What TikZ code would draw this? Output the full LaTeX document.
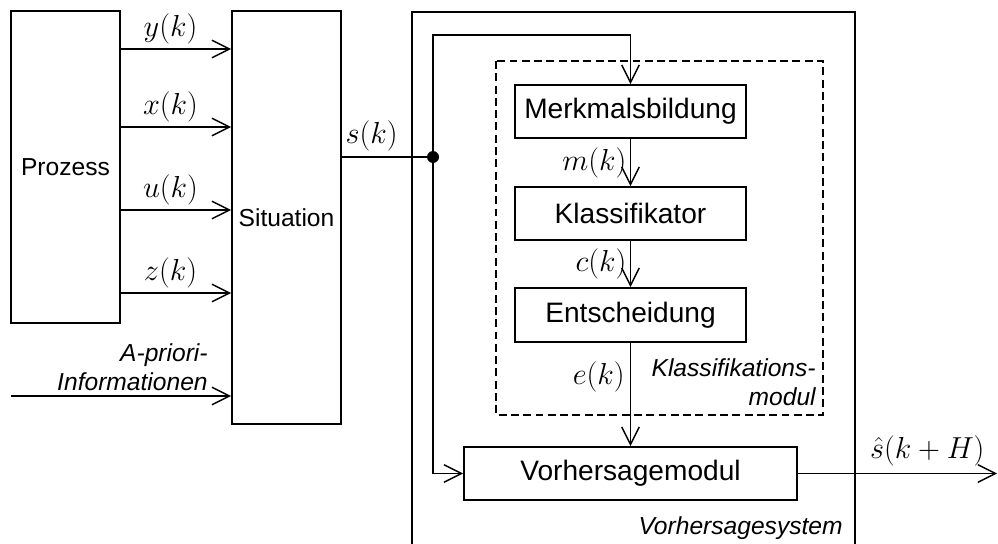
\documentclass[tikz,border=0pt]{standalone}
\usepackage{fontspec}
\setmainfont{Liberation Sans}
\usetikzlibrary{arrows.meta}

\tikzset{
    block/.style={draw, line width=1.1pt, inner sep=0pt, font=\fontsize{16}{19}\selectfont},
    arr/.style={line width=0.8pt, -{Straight Barb[length=10pt,width=10pt,line width=0.8pt]}},
    sig/.style={font=\fontsize{18}{21}\selectfont},
    note/.style={font=\fontsize{14}{16.5}\selectfont\itshape, align=right, inner sep=0pt},
}

\begin{document}
\begin{tikzpicture}[x=0.02cm, y=-0.02cm]

    \useasboundingbox (0,0) rectangle (998,544);

    % Prediction system frame (open at the bottom)
    \draw[line width=1.1pt] (412,544) -- (412,12) -- (855,12) -- (855,544);
    \node[note, anchor=east] (systext) at (843,528) {Vorhersagesystem};

    % Classification module frame
    \draw[line width=0.9pt, dash pattern=on 4.5pt off 2.5pt] (496,61) rectangle (823,415);
    \node[note, anchor=east] (klasstext) at (816,382) {Klassifikations-\\modul};

    % Blocks
    \node[block, minimum width=2.18cm, minimum height=6.24cm, font=\fontsize{14}{17}\selectfont]
        (prozess) at (65.5,167) {Prozess};
    \node[block, minimum width=2.18cm, minimum height=8.26cm, font=\fontsize{14}{17}\selectfont]
        (situation) at (286.5,217.5) {Situation};
    \node[block, minimum width=4.62cm, minimum height=1.06cm] (merkmal) at (630.5,111.5) {Merkmalsbildung};
    \node[block, minimum width=4.62cm, minimum height=1.06cm] (klassi) at (630.5,213.5) {Klassifikator};
    \node[block, minimum width=4.62cm, minimum height=1.08cm] (entsch) at (630.5,315) {Entscheidung};
    \node[block, minimum width=6.66cm, minimum height=1.06cm] (vorher) at (630.5,473.5) {Vorhersagemodul};

    % Process signals into the situation block
    \foreach \y/\s in {49/y, 127/x, 210/u, 293/z} {
        \coordinate (in\s) at (0,\y);
        \draw[arr] (prozess.east |- in\s) -- (situation.west |- in\s)
            node[sig, pos=0.45, above, inner sep=2.5pt] {$\s(k)$};
    }

    % A-priori information
    \coordinate (apriori) at (11,396);
    \draw[arr] (apriori) -- (situation.west |- apriori);
    \node[note, anchor=east] (aprioritext) at (208,367) {A-priori-\\Informationen};

    % Situation signal and branch point
    \node[circle, fill, inner sep=0pt, minimum size=0.24cm] (dot) at (433,157) {};
    \draw[line width=0.8pt] (situation.east |- dot) -- (dot)
        node[sig, pos=0.35, above, inner sep=3pt] {$s(k)$};

    % Branches to feature extraction and prediction module
    \coordinate (loop) at (433,35);
    \draw[arr] (dot) -- (loop) -| (merkmal.north);
    \draw[arr] (dot) |- (vorher.west);

    % Classification chain
    \draw[arr] (merkmal) -- (klassi) node[sig, midway, left, inner sep=2pt] {$m(k)$};
    \draw[arr] (klassi) -- (entsch) node[sig, midway, left, inner sep=2pt] {$c(k)$};
    \draw[arr] (entsch) -- (vorher) node[sig, pos=0.33, left, inner sep=3pt] {$e(k)$};

    % Prediction output
    \coordinate (out) at (997,473.5);
    \draw[arr] (vorher.east) -- (out) node[sig, pos=0.65, above, inner sep=4pt] {$\hat{s}(k+H)$};

\end{tikzpicture}
\end{document}
